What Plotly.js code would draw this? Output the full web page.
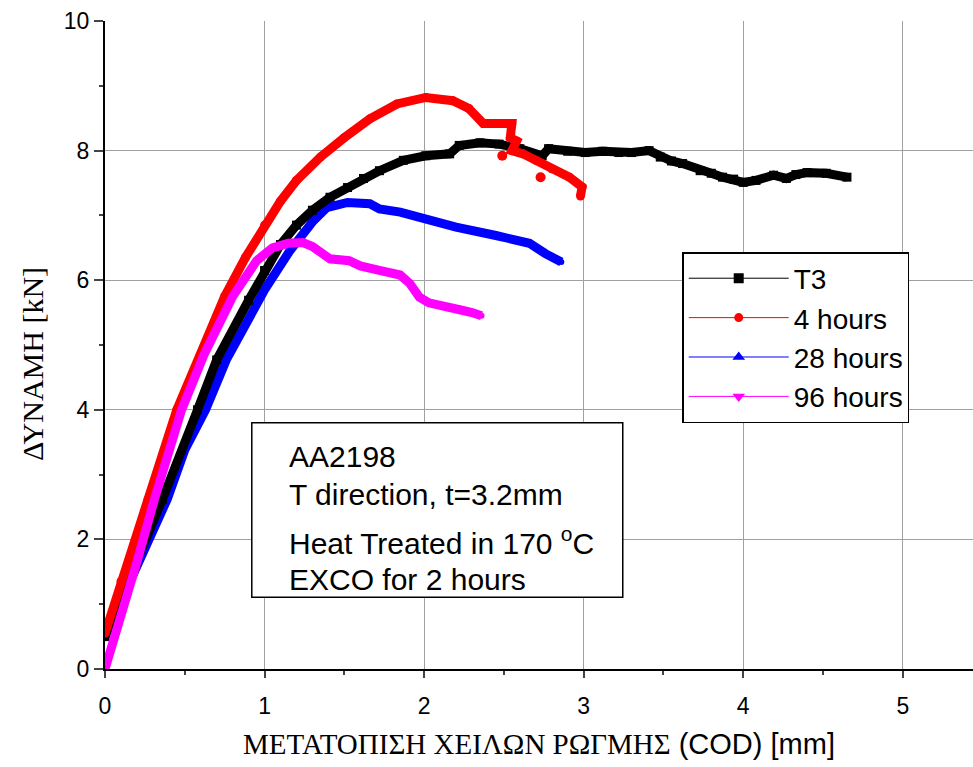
<!DOCTYPE html>
<html>
<head>
<meta charset="utf-8">
<script src="https://cdn.plot.ly/plotly-3.0.1.min.js"></script>
<style>html,body{margin:0;padding:0;background:#fff;}#chart{width:973px;height:767px;}</style>
</head>
<body>
<div id="chart"></div>
<script>
// T3
const t3X = [0, 0.2, 0.36, 0.58, 0.7, 0.9, 1.0, 1.1, 1.2, 1.3, 1.41, 1.52, 1.62, 1.72, 1.87, 2.01, 2.16, 2.22, 2.35, 2.47, 2.6, 2.74, 2.78, 2.9, 3.01, 3.12, 3.22, 3.3, 3.41, 3.48, 3.55, 3.62, 3.73, 3.8, 3.87, 3.94, 4.0, 4.08, 4.19, 4.27, 4.33, 4.4, 4.52, 4.65];
const t3Y = [0.5, 1.65, 2.62, 4.0, 4.77, 5.69, 6.15, 6.55, 6.85, 7.08, 7.28, 7.43, 7.57, 7.69, 7.85, 7.92, 7.95, 8.08, 8.12, 8.1, 8.03, 7.92, 8.03, 7.99, 7.97, 7.99, 7.97, 7.97, 8.0, 7.9, 7.84, 7.8, 7.69, 7.65, 7.59, 7.56, 7.51, 7.54, 7.62, 7.57, 7.63, 7.66, 7.65, 7.59];
// 4 hours
const h4X = [0, 0.1, 0.27, 0.45, 0.6, 0.75, 0.88, 1.0, 1.1, 1.2, 1.35, 1.5, 1.66, 1.83, 2.01, 2.18, 2.28, 2.37, 2.45, 2.55, 2.54, 2.58, 2.55, 2.62, 2.7, 2.8, 2.91, 2.99, 2.98];
const h4Y = [0.55, 1.35, 2.62, 4.0, 4.85, 5.75, 6.35, 6.85, 7.22, 7.54, 7.9, 8.2, 8.49, 8.72, 8.82, 8.77, 8.65, 8.42, 8.42, 8.42, 8.2, 8.15, 8.0, 7.95, 7.85, 7.72, 7.59, 7.44, 7.3];
const h4OutX = [2.49, 2.73];
const h4OutY = [7.92, 7.59];
// 28 hours
const h28X = [0, 0.2, 0.39, 0.5, 0.63, 0.76, 0.96, 1.0, 1.16, 1.3, 1.39, 1.52, 1.66, 1.72, 1.85, 2.03, 2.2, 2.45, 2.66, 2.76, 2.86];
const h28Y = [0.5, 1.55, 2.62, 3.38, 4.0, 4.77, 5.69, 5.85, 6.46, 6.9, 7.12, 7.2, 7.18, 7.1, 7.05, 6.92, 6.82, 6.69, 6.57, 6.41, 6.28];
// 96 hours
const h96X = [0, 0.1, 0.2, 0.31, 0.48, 0.62, 0.8, 0.95, 1.05, 1.15, 1.24, 1.3, 1.35, 1.41, 1.53, 1.6, 1.72, 1.85, 1.91, 1.97, 2.03, 2.13, 2.23, 2.3, 2.36];
const h96Y = [0, 0.8, 1.65, 2.62, 4.0, 4.85, 5.75, 6.3, 6.5, 6.57, 6.58, 6.52, 6.43, 6.33, 6.3, 6.22, 6.15, 6.08, 5.95, 5.74, 5.65, 5.58, 5.54, 5.5, 5.45];

const seriesNames = ['T3', '4 hours', '28 hours', '96 hours'];
const seriesColors = ['#000000', '#ff0000', '#0000ff', '#ff00ff'];
const seriesSymbols = ['square', 'circle', 'triangle-up', 'triangle-down'];

const infoLines = ['AA2198', 'T direction, t=3.2mm', 'Heat Treated in 170 <sup>o</sup>C', 'EXCO for 2 hours'];
const infoY = [3.28, 2.69, 1.97, 1.385];

const xTicks = [0, 1, 2, 3, 4, 5];
const yTicks = [0, 2, 4, 6, 8, 10];

const SANS = 'Liberation Sans, Arial';
const SERIF = 'Liberation Serif, Times New Roman';

function band(x, y, i, sym, msize) {
  return {x: x, y: y, type: 'scatter', mode: 'lines+markers', showlegend: false,
    line: {color: seriesColors[i], width: 9},
    marker: {color: seriesColors[i], symbol: sym, size: msize}, hoverinfo: 'skip'};
}

const traces = [
  band(h28X, h28Y, 2, 'circle', 6),
  band(t3X, t3Y, 0, 'square', 9),
  band(h4X, h4Y, 1, 'circle', 9),
  {x: h4OutX, y: h4OutY, type: 'scatter', mode: 'markers', showlegend: false,
   marker: {color: seriesColors[1], size: 10}},
  band(h96X, h96Y, 3, 'circle', 6)
];
for (let i = 0; i < 4; i++) {
  traces.push({x: [null], y: [null], type: 'scatter', mode: 'lines+markers', name: seriesNames[i],
    line: {color: seriesColors[i], width: 1},
    marker: {color: seriesColors[i], symbol: seriesSymbols[i], size: i === 1 ? 9 : (i === 0 ? 10 : 11)}});
}

const annotations = infoLines.map((t, k) => ({
  x: 1.14, y: infoY[k], xref: 'x', yref: 'y', xanchor: 'left', yanchor: 'middle',
  text: t, showarrow: false, font: {family: SANS, size: 30, color: '#000'}
}));
annotations.push({
  x: -0.083, y: 0.4707, xref: 'paper', yref: 'paper', xanchor: 'center', yanchor: 'middle',
  text: 'ΔΥΝΑΜΗ [kN]', textangle: -90, showarrow: false,
  font: {family: SERIF, size: 30, color: '#000'}
});

const layout = {
  width: 973, height: 767,
  margin: {l: 105, r: 0, t: 21, b: 98},
  paper_bgcolor: '#fff', plot_bgcolor: '#fff',
  showlegend: true,
  legend: {x: 0.665, y: 0.6435, xanchor: 'left', yanchor: 'top',
    bgcolor: '#fff', bordercolor: '#000', borderwidth: 1.5,
    font: {family: SANS, size: 28, color: '#000'},
    itemwidth: 100},
  xaxis: {range: [0, 5.44], tickvals: xTicks, ticks: 'outside', ticklen: 7, tickwidth: 2,
    showline: true, linecolor: '#000', linewidth: 2, zeroline: false,
    showgrid: true, gridcolor: '#a0a0a0', gridwidth: 1,
    minor: {dtick: 0.5, ticks: 'outside', ticklen: 4, tickwidth: 2, showgrid: false},
    ticklabelstandoff: 8,
    tickfont: {family: SANS, size: 23, color: '#000'},
    title: {text: '<span style="font-family:Liberation Serif">ΜΕΤΑΤΟΠΙΣΗ ΧΕΙΛΩΝ ΡΩΓΜΗΣ</span> (COD) [mm]',
      font: {family: SANS, size: 29, color: '#000'}, standoff: 16}},
  xaxis2: {range: [0, 5.44], overlaying: 'x', side: 'top', anchor: 'y', tickvals: xTicks,
    ticks: 'inside', ticklen: 7, tickwidth: 2, showticklabels: false, showgrid: false, zeroline: false,
    showline: true, linecolor: '#000', linewidth: 2,
    minor: {dtick: 0.5, ticks: 'inside', ticklen: 4, tickwidth: 2, showgrid: false}},
  yaxis: {range: [0, 10], tickvals: yTicks, ticks: 'outside', ticklen: 9, tickwidth: 2,
    showline: true, linecolor: '#000', linewidth: 2, zeroline: false,
    showgrid: true, gridcolor: '#a0a0a0', gridwidth: 1,
    minor: {dtick: 1, ticks: 'outside', ticklen: 4, tickwidth: 2, showgrid: false},
    tickfont: {family: SANS, size: 23, color: '#000'}},
  shapes: [{type: 'rect', xref: 'x', yref: 'y', x0: 0.92, x1: 3.245, y0: 1.108, y1: 3.8,
    line: {color: '#000', width: 1.5}, fillcolor: '#fff', layer: 'above'}],
  annotations: annotations
};

Plotly.newPlot('chart', traces, layout, {displayModeBar: false, staticPlot: true});
</script>
</body>
</html>
